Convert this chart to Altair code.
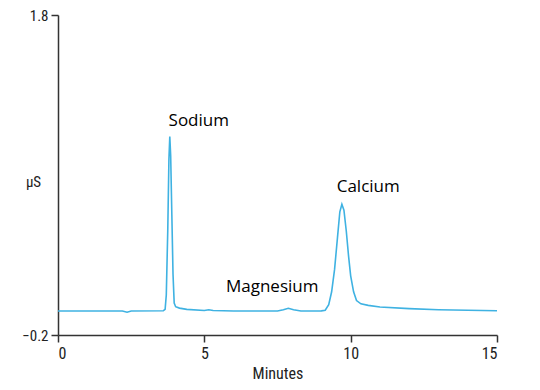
import altair as alt
import pandas as pd

# Chromatogram trace (minutes, µS)
minutes = [0.0, 2.2, 2.36, 2.5, 3.6, 3.66, 3.70, 3.75, 3.79, 3.82, 3.85, 3.89, 3.93, 3.97,
           4.02, 4.15, 4.4, 5.0, 5.15, 5.3, 6.0, 7.5, 7.7, 7.87, 8.05, 8.3, 9.0, 9.13,
           9.25, 9.35, 9.45, 9.55, 9.63, 9.70, 9.77, 9.85, 9.93, 10.0, 10.1, 10.2, 10.35,
           10.6, 11.0, 12.0, 13.0, 15.0]
signal = [-0.05, -0.05, -0.058, -0.05, -0.048, -0.04, 0.05, 0.45, 0.90, 1.04, 0.92, 0.55, 0.18, 0.0,
          -0.023, -0.032, -0.04, -0.047, -0.042, -0.047, -0.05, -0.05, -0.042, -0.033, -0.042, -0.05, -0.049, -0.045,
          -0.01, 0.07, 0.21, 0.41, 0.57, 0.617, 0.58, 0.45, 0.29, 0.17, 0.07, 0.015, -0.005,
          -0.015, -0.025, -0.035, -0.042, -0.048]

label_text = ["Sodium", "Magnesium", "Calcium"]
label_x = [4.81, 7.32, 10.60]
label_y = [1.108, 0.069, 0.694]

x_ticks = [0, 5, 10, 15]
y_ticks = [-0.2, 1.8]

trace = pd.DataFrame({"t": minutes, "v": signal})
labels = pd.DataFrame({"name": label_text, "t": label_x, "v": label_y})

axis_font = "Liberation Sans Narrow, Arial Narrow, Roboto Condensed, sans-serif"

x_enc = alt.X("t:Q", scale=alt.Scale(domain=[0, 15], nice=False, zero=False),
              axis=alt.Axis(values=x_ticks, title="Minutes", grid=False, tickSize=7,
                            labelFontSize=16, titleFontSize=16, labelFont=axis_font,
                            titleFont=axis_font, titleFontWeight="normal",
                            labelPadding=3, titlePadding=4, labelColor="#222",
                            titleColor="#222", domainColor="#333", tickColor="#333",
                            domainWidth=1.5, tickWidth=1.5))
y_enc = alt.Y("v:Q", scale=alt.Scale(domain=[-0.2, 1.8], nice=False, zero=False),
              axis=alt.Axis(values=y_ticks, format=".1f", title="µS", grid=False,
                            tickSize=7, labelFontSize=15, titleFontSize=15,
                            labelFont=axis_font, titleFont=axis_font,
                            titleFontWeight="normal", titleAngle=0, titleX=-25, titleY=166,
                            titleAlign="center", titleBaseline="middle",
                            labelPadding=3, labelColor="#222", titleColor="#222",
                            domainColor="#333", tickColor="#333",
                            domainWidth=1.5, tickWidth=1.5))

line = alt.Chart(trace).mark_line(color="#3fb2e2", strokeWidth=1.6).encode(x=x_enc, y=y_enc)

text = alt.Chart(labels).mark_text(font="Open Sans", fontSize=17, color="#000",
                                   align="center", baseline="alphabetic").encode(
    x=alt.X("t:Q"), y=alt.Y("v:Q"), text="name:N")

chart = (line + text).properties(
    width=439, height=320,
    autosize=alt.AutoSizeParams(type="none"),
    padding={"left": 50, "top": 7, "right": 20, "bottom": 55},
    background="white",
).configure_view(stroke=None)

chart.save("out.html", embed_options={"renderer": "svg", "actions": False})
